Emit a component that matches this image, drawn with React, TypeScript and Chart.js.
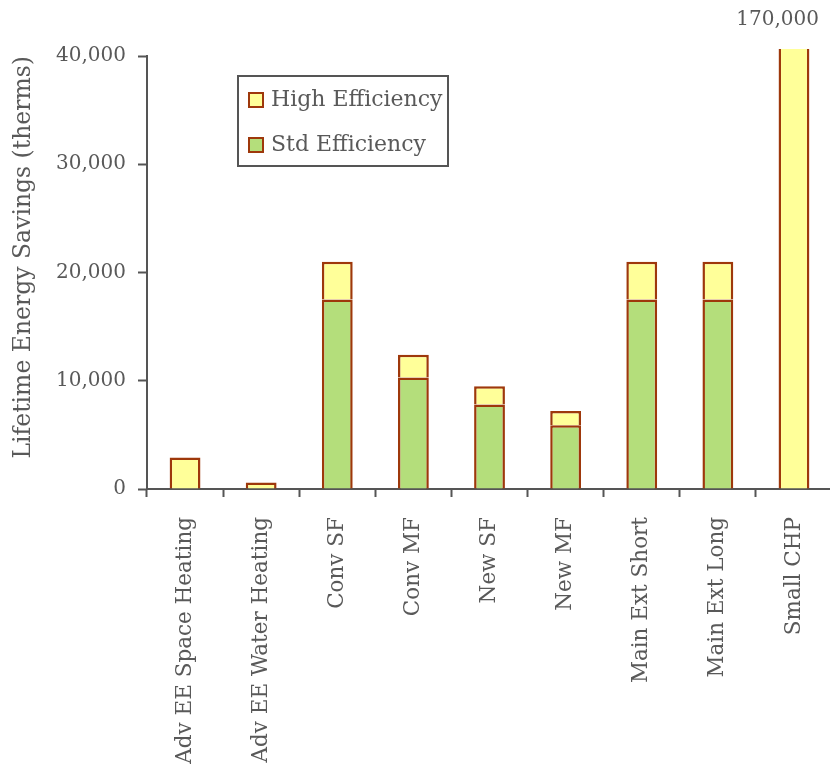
import React, { useEffect, useRef } from "react";
import { Chart, registerables } from "chart.js";

Chart.register(...registerables);

const categories = [
  "Adv EE Space Heating",
  "Adv EE Water Heating",
  "Conv SF",
  "Conv MF",
  "New SF",
  "New MF",
  "Main Ext Short",
  "Main Ext Long",
  "Small CHP",
];

// Lifetime savings (therms) per measure
const stdEfficiency: (number | null)[] = [null, null, 17500, 10300, 7800, 5900, 17500, 17500, null];
const highEfficiency: number[] = [2900, 600, 3500, 2100, 1700, 1300, 3500, 3500, 170000];

const yTicks = [0, 10000, 20000, 30000, 40000];

const FONT = "'DejaVu Serif', serif";
const TEXT = "#595959";
const AXIS = "#555555";
const EDGE = "#9E380B";
const GREEN = "#B4DE7B";
const YELLOW = "#FFFF99";

const fmt = (v: number) => v.toLocaleString("en-US");

// Labels values that run past the top of the value axis
const overflowLabels = {
  id: "overflowLabels",
  afterDatasetsDraw(chart: any) {
    const y = chart.scales.y;
    const { ctx } = chart;
    chart.data.datasets.forEach((ds: any, di: number) => {
      const meta = chart.getDatasetMeta(di);
      ds.data.forEach((v: number | null, i: number) => {
        if (v == null || v <= y.max) return;
        const bar = meta.data[i];
        ctx.save();
        ctx.font = `20px ${FONT}`;
        ctx.fillStyle = TEXT;
        ctx.textAlign = "right";
        ctx.textBaseline = "middle";
        ctx.fillText(fmt(v), bar.x + 25, chart.chartArea.top - 36);
        ctx.restore();
      });
    });
  },
};

// Boxed legend inside the plot area, top series first
const boxLegend = {
  id: "boxLegend",
  afterDraw(chart: any) {
    const { ctx, chartArea } = chart;
    const x0 = chartArea.left + 91;
    const y0 = chartArea.top + 20;
    const w = 210;
    const h = 90;
    ctx.save();
    ctx.fillStyle = "#ffffff";
    ctx.fillRect(x0, y0, w, h);
    ctx.strokeStyle = AXIS;
    ctx.lineWidth = 2;
    ctx.strokeRect(x0, y0, w, h);
    const items = [...chart.data.datasets].reverse();
    items.forEach((ds: any, k: number) => {
      const cy = y0 + 24 + k * 45;
      ctx.fillStyle = ds.backgroundColor;
      ctx.fillRect(x0 + 11, cy - 7, 14, 14);
      ctx.strokeStyle = ds.borderColor;
      ctx.lineWidth = 2;
      ctx.strokeRect(x0 + 11, cy - 7, 14, 14);
      ctx.font = `22px ${FONT}`;
      ctx.fillStyle = TEXT;
      ctx.textAlign = "left";
      ctx.textBaseline = "middle";
      ctx.fillText(ds.label, x0 + 33, cy);
    });
    ctx.restore();
  },
};

export default function App() {
  const canvasRef = useRef<HTMLCanvasElement | null>(null);

  useEffect(() => {
    if (!canvasRef.current) return;
    const barOpts = {
      borderColor: EDGE,
      borderWidth: 2.5,
      barPercentage: 0.405,
      categoryPercentage: 1,
      clip: { left: 0, top: 7, right: 10, bottom: 0 },
    };
    const chart = new Chart(canvasRef.current, {
      type: "bar",
      data: {
        labels: categories,
        datasets: [
          { label: "Std Efficiency", data: stdEfficiency, backgroundColor: GREEN, ...barOpts },
          { label: "High Efficiency", data: highEfficiency, backgroundColor: YELLOW, ...barOpts },
        ],
      },
      options: {
        animation: false,
        responsive: false,
        devicePixelRatio: 1,
        layout: { padding: { top: 56, left: 0, right: 4, bottom: 0 } },
        plugins: {
          legend: { display: false },
          tooltip: { enabled: false },
        },
        scales: {
          x: {
            stacked: true,
            offset: true,
            grid: {
              display: true,
              offset: true,
              drawOnChartArea: false,
              drawTicks: true,
              tickLength: 8,
              tickWidth: 2,
              tickColor: AXIS,
            },
            border: { display: true, color: AXIS, width: 2 },
            ticks: {
              autoSkip: false,
              minRotation: 90,
              maxRotation: 90,
              padding: 20,
              color: TEXT,
              font: { family: FONT, size: 21.5 },
            },
            afterFit(scale: any) {
              scale.height = 281;
            },
          },
          y: {
            stacked: true,
            min: 0,
            max: 40000,
            afterBuildTicks(scale: any) {
              scale.ticks = yTicks.map((v) => ({ value: v }));
            },
            grid: {
              display: true,
              drawOnChartArea: false,
              drawTicks: true,
              tickLength: 9,
              tickWidth: 2,
              tickColor: AXIS,
            },
            border: { display: true, color: AXIS, width: 2 },
            ticks: {
              padding: 12,
              color: TEXT,
              font: { family: FONT, size: 20 },
              callback: (v: any) => fmt(Number(v)),
            },
            title: {
              display: true,
              text: "Lifetime Energy Savings (therms)",
              align: "end",
              color: TEXT,
              font: { family: FONT, size: 23.5 },
              padding: { top: 10, bottom: 0 },
            },
            afterFit(scale: any) {
              scale.width = 147;
            },
          },
        },
      },
      plugins: [overflowLabels, boxLegend],
    });
    return () => chart.destroy();
  }, []);

  return (
    <div style={{ position: "absolute", left: 0, top: 0, width: 830, height: 770, overflow: "hidden", background: "#fff" }}>
      <canvas ref={canvasRef} width={840} height={770} style={{ display: "block" }} />
    </div>
  );
}
